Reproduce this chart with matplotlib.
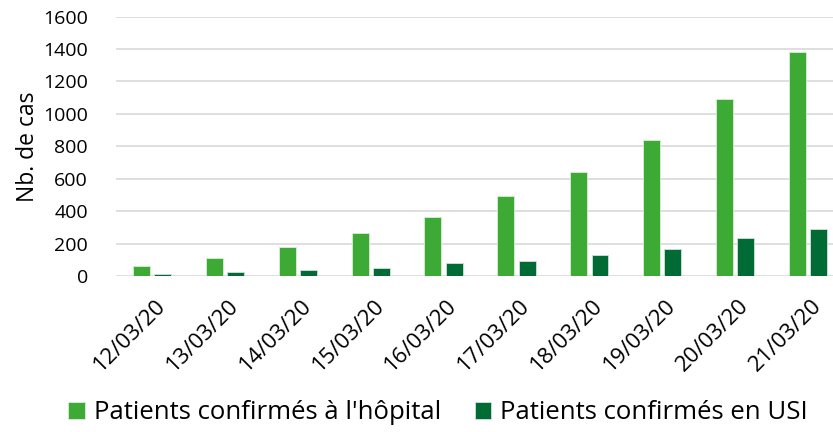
import matplotlib
matplotlib.use("Agg")
import matplotlib.pyplot as plt
import numpy as np

plt.rcParams['font.family'] = ['Open Sans', 'DejaVu Sans']

dates = ["12/03/20", "13/03/20", "14/03/20", "15/03/20", "16/03/20",
         "17/03/20", "18/03/20", "19/03/20", "20/03/20", "21/03/20"]
hopital = [62, 111, 179, 263, 364, 494, 644, 841, 1094, 1381]
usi = [12, 23, 35, 49, 78, 95, 130, 165, 236, 288]
yticks = [0, 200, 400, 600, 800, 1000, 1200, 1400, 1600]

c_hop = "#3DAA35"
c_usi = "#006B35"

fig = plt.figure(figsize=(8.33, 4.32), dpi=100)
ax = fig.add_axes([0.1387, 0.3611, 1 - 0.1387, 0.9618 - 0.3611])

x = np.arange(len(dates))
w = 0.233
off = 0.146
ax.bar(x - off, hopital, width=w, color=c_hop, edgecolor="#d8eed6", linewidth=0.6,
       label="Patients confirmés à l'hôpital", zorder=3)
ax.bar(x + off, usi, width=w, color=c_usi, edgecolor="#cfe3d6", linewidth=0.6,
       label="Patients confirmés en USI", zorder=3)

ax.set_ylim(0, 1600)
ax.set_yticks(yticks)
ax.set_xlim(-0.5, 9.5 - (844.5 - 833) / 72.9)
ax.set_xticks(x)
ax.set_xticklabels(dates, rotation=45, ha="right", rotation_mode="anchor", fontsize=16)
ax.tick_params(axis="y", labelsize=14, length=0, pad=20)
ax.tick_params(axis="x", length=0, pad=14)
for t in ax.get_xticklabels():
    t.set_transform(t.get_transform() + matplotlib.transforms.ScaledTranslation(0.03, 0, fig.dpi_scale_trans))
ax.grid(axis="y", color="#d9d9d9", linewidth=1.2, zorder=0)
for s in ax.spines.values():
    s.set_visible(False)
ax.set_ylabel("Nb. de cas", fontsize=16.5, labelpad=2)

handles, labels = ax.get_legend_handles_labels()
fig.legend(handles, labels, loc="center", bbox_to_anchor=(0.526, 0.044), ncol=2,
           frameon=False, fontsize=18.5, handlelength=0.65, handleheight=0.65,
           handletextpad=0.35, columnspacing=1.3)

fig.savefig("out.png", dpi=100)
